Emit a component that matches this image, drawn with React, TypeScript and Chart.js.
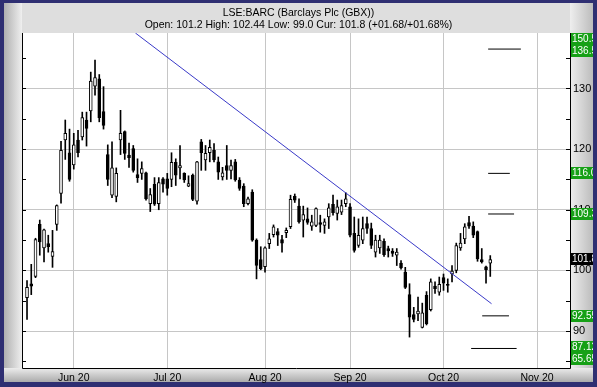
import React, { useEffect, useRef } from 'react';
import { Chart, registerables } from 'chart.js';
Chart.register(...registerables);

const opens = [95.5,97.8,99.0,107.6,103.7,104.4,102.3,107.6,112.7,121.5,
119.4,117.4,121.5,122.0,124.8,126.3,130.4,131.6,126.2,119.1,
112.4,112.2,121.5,122.9,119.0,120.1,115.8,116.0,116.1,111.0,
114.2,111.0,115.1,115.1,115.0,117.8,116.9,116.0,113.9,115.7,
111.4,121.2,118.2,119.4,119.8,117.9,115.4,117.3,116.5,117.9,
114.9,113.9,111.0,112.9,105.0,101.8,100.6,104.4,105.9,106.4,
105.1,106.2,107.2,112.2,110.6,108.3,108.5,107.3,107.4,107.9,
107.4,108.8,110.9,109.4,109.6,111.0,110.5,106.1,104.1,105.0,
107.7,106.9,103.0,103.7,104.8,103.6,103.2,102.5,101.2,99.7,
96.0,92.7,92.8,90.6,95.9,93.5,97.4,96.4,98.8,97.7,
99.4,100.0,103.7,105.2,107.9,107.3,106.4,101.8,100.6,101.2];

const highs = [98.3,101.0,105.3,108.3,106.8,105.8,106.6,110.8,121.3,124.8,
123.3,122.6,123.1,126.1,126.1,132.7,134.7,132.3,130.3,120.7,
121.2,116.9,126.4,123.0,121.0,120.6,118.4,117.9,116.2,113.5,
115.3,115.3,115.3,116.0,119.4,118.4,120.6,116.1,115.6,115.9,
118.0,121.6,120.6,121.5,120.9,118.7,117.0,120.6,118.2,118.3,
115.3,114.3,112.1,113.3,105.2,103.9,103.9,106.1,107.5,106.9,
105.8,107.0,112.4,112.6,111.8,110.6,110.3,109.1,110.3,109.1,
108.5,111.0,112.4,111.6,111.6,112.8,111.0,108.8,108.5,108.8,
108.8,107.8,105.8,105.8,105.2,104.0,103.6,103.6,101.6,100.5,
97.8,93.9,95.6,94.6,96.5,98.6,98.1,98.9,99.4,98.6,
100.8,104.5,106.1,107.7,108.9,108.0,106.5,103.6,100.7,102.44];

const lows = [91.9,96.0,98.8,102.5,101.4,103.0,100.5,106.6,111.1,118.3,
114.7,116.7,118.7,121.5,120.5,124.5,128.9,124.5,123.3,114.0,
112.0,111.3,119.1,118.3,117.0,116.2,114.5,115.0,111.6,109.7,
110.7,110.0,112.9,112.4,113.8,114.0,115.1,114.5,113.8,111.5,
110.9,116.5,116.5,117.9,117.9,115.0,114.9,115.0,115.1,114.7,
113.2,110.5,110.8,104.8,98.6,100.1,99.7,103.6,105.5,104.1,
103.0,105.4,106.9,111.2,107.8,105.5,107.6,106.6,107.2,106.3,
106.1,106.9,109.1,108.3,109.2,110.5,105.5,103.0,103.8,104.4,
106.1,103.6,102.2,102.8,102.3,102.2,102.3,100.8,100.2,97.0,
89.0,91.5,91.7,90.5,91.0,93.3,96.2,95.9,96.7,96.4,
98.1,99.6,103.3,104.4,106.9,105.4,101.5,101.2,97.9,99.0];

const closes = [97.2,97.4,105.1,104.7,106.7,103.9,103.1,110.7,119.8,122.6,
115.0,120.7,119.4,125.2,123.4,131.2,131.8,125.2,123.9,115.0,
116.9,116.0,122.6,119.3,118.6,116.5,115.3,116.8,111.8,112.5,
110.9,114.5,114.2,113.5,117.8,115.7,117.3,114.9,114.3,111.7,
117.9,119.4,119.3,120.3,118.2,116.2,116.1,116.5,117.3,114.9,
113.5,111.0,111.8,105.0,100.8,100.3,103.7,105.2,107.2,105.8,
104.5,106.6,111.7,111.6,108.0,109.2,107.9,108.0,110.2,107.6,
108.0,110.3,109.5,110.5,110.7,111.8,105.8,103.3,105.8,106.9,
106.9,104.1,105.0,105.0,102.6,103.2,102.8,103.0,100.4,97.2,
92.3,91.9,93.3,93.0,91.2,98.1,97.0,97.7,97.9,97.5,
99.9,104.1,104.5,107.2,107.3,105.8,101.9,101.4,100.1,101.8];

const monthTicks = [11, 33, 56, 76, 98, 120];
const monthLabels = ['Jun 20', 'Jul 20', 'Aug 20', 'Sep 20', 'Oct 20', 'Nov 20'];
const yTicks = [85, 90, 95, 100, 105, 110, 115, 120, 125, 130, 135];

const trendX = [25.5, 109.3];
const trendY = [139.15, 94.5];

const targetLevels = [136.5, 116.0, 109.3, 92.5, 87.12];
const targetFrom = [108.5, 108.5, 108.5, 107.1, 104.5];
const targetTo = [116.2, 113.6, 114.6, 113.4, 115.2];

const levelValues = [150.55, 136.5, 116.05, 109.35, 101.8, 92.55, 87.12, 65.65];
const levelTexts = ['150.55', '136.50', '116.05', '109.35', '101.80', '92.55', '87.12', '65.65'];
const currentPrice = 101.8;

const titleLines = [
  'LSE:BARC (Barclays Plc (GBX))',
  'Open: 101.2 High: 102.44 Low: 99.0 Cur: 101.8 (+01.68/+01.68%)',
];

const FONT = '"Liberation Sans", Arial, sans-serif';

const framePlugin = {
  id: 'frame',
  beforeDraw(chart: any) {
    const { ctx, chartArea: a, width, height } = chart;
    ctx.save();
    ctx.fillStyle = '#2f2f72';
    ctx.fillRect(0, 0, width, height);
    ctx.fillStyle = '#dedede';
    ctx.fillRect(4, 3, 589, 379);
    let g = ctx.createLinearGradient(4, 0, a.left, 0);
    g.addColorStop(0, '#b0b0b0');
    g.addColorStop(1, '#efefef');
    ctx.fillStyle = g;
    ctx.fillRect(4, 3, a.left - 4, 379);
    g = ctx.createLinearGradient(a.right, 0, 593, 0);
    g.addColorStop(0, '#eeeeee');
    g.addColorStop(1, '#bcbcbc');
    ctx.fillStyle = g;
    ctx.fillRect(a.right, 3, 593 - a.right, 379);
    g = ctx.createLinearGradient(0, a.bottom, 0, 382);
    g.addColorStop(0, '#ececec');
    g.addColorStop(1, '#ababab');
    ctx.fillStyle = g;
    ctx.fillRect(4, a.bottom, 589, 382 - a.bottom);
    ctx.fillStyle = '#ffffff';
    ctx.fillRect(a.left, a.top, a.right - a.left, a.bottom - a.top);
    ctx.restore();
  },
  afterDraw(chart: any) {
    const { ctx, chartArea: a } = chart;
    const y = chart.scales.y;
    ctx.save();
    ctx.strokeStyle = '#000';
    ctx.lineWidth = 1;
    ctx.beginPath();
    ctx.moveTo(a.left + 0.5, a.top);
    ctx.lineTo(a.left + 0.5, a.bottom + 0.5);
    ctx.lineTo(a.right + 0.5, a.bottom + 0.5);
    ctx.lineTo(a.right + 0.5, a.top);
    for (const v of yTicks) {
      const py = Math.round(y.getPixelForValue(v)) + 0.5;
      ctx.moveTo(a.left, py);
      ctx.lineTo(a.left + 4, py);
      ctx.moveTo(a.right - 4, py);
      ctx.lineTo(a.right, py);
    }
    ctx.stroke();

    const h = 12;
    const items = levelValues.map((v, i) => ({
      v,
      text: levelTexts[i],
      c: Math.min(Math.max(y.getPixelForValue(v), a.top + 6), a.bottom - 9),
      cur: v === currentPrice,
    }));
    items.sort((p, q) => p.c - q.c);
    for (let i = 1; i < items.length; i++) {
      if (items[i].c < items[i - 1].c + h) items[i].c = items[i - 1].c + h;
    }
    for (let i = items.length - 1; i >= 0; i--) {
      const lim = i === items.length - 1 ? a.bottom - 9 : items[i + 1].c - h;
      if (items[i].c > lim) items[i].c = lim;
    }
    ctx.beginPath();
    ctx.rect(0, 0, 593, 387);
    ctx.clip();
    ctx.font = '10px ' + FONT;
    ctx.textBaseline = 'middle';
    ctx.textAlign = 'left';
    for (const it of items) {
      const top = Math.round(it.c - h / 2);
      ctx.fillStyle = it.cur ? '#000000' : '#16a016';
      ctx.fillRect(a.right + 1, top, 30, h);
      ctx.fillStyle = '#ffffff';
      ctx.fillText(it.text, a.right + 2, top + h / 2 + 0.5);
    }
    ctx.restore();
  },
};

export default function App() {
  const ref = useRef<HTMLCanvasElement>(null);
  useEffect(() => {
    if (!ref.current) return;
    const idx = opens.map((_, i) => i);
    const bodies = idx.map((i) => ({ x: i, y: [opens[i], closes[i]] }));
    const wicks = idx.map((i) => ({ x: i, y: [lows[i], highs[i]] }));
    const bodyColors = idx.map((i) => (closes[i] >= opens[i] ? '#ffffff' : '#000000'));
    const targets = targetLevels.map((v, k) => ({
      type: 'line' as const,
      data: [{ x: targetFrom[k], y: v }, { x: targetTo[k], y: v }],
      borderColor: '#000000',
      borderWidth: 1,
      pointRadius: 0,
      order: -1,
    }));
    const chart = new Chart(ref.current, {
      type: 'bar',
      data: {
        datasets: [
          {
            type: 'bar',
            data: bodies as any,
            backgroundColor: bodyColors,
            borderColor: '#000000',
            borderWidth: 1,
            borderSkipped: false,
            barThickness: 3,
            grouped: false,
            order: 0,
          } as any,
          {
            type: 'bar',
            data: wicks as any,
            backgroundColor: '#000000',
            borderWidth: 0,
            barThickness: 1,
            grouped: false,
            order: 1,
          } as any,
          {
            type: 'line',
            data: [{ x: trendX[0], y: trendY[0] }, { x: trendX[1], y: trendY[1] }],
            borderColor: '#3a3ac8',
            borderWidth: 1,
            pointRadius: 0,
            order: -2,
          } as any,
          ...(targets as any[]),
        ],
      },
      options: {
        animation: false,
        responsive: false,
        devicePixelRatio: 1,
        layout: { padding: 0 },
        plugins: {
          legend: { display: false },
          tooltip: { enabled: false },
          title: {
            display: true,
            text: titleLines,
            color: '#000000',
            font: { family: FONT, size: 10.5, lineHeight: '12px', weight: 'normal' },
            padding: { top: 7, bottom: 2 },
          },
        },
        scales: {
          x: {
            type: 'linear',
            offset: false,
            min: -1.18,
            max: 127.76,
            afterBuildTicks: (s: any) => {
              s.ticks = monthTicks.map((v) => ({ value: v }));
            },
            afterFit: (s: any) => {
              s.height = 19;
            },
            ticks: {
              autoSkip: false,
              maxRotation: 0,
              padding: 4,
              color: '#000000',
              font: { family: FONT, size: 10.5 },
              callback: (v: any) => monthLabels[monthTicks.indexOf(Number(v))] ?? '',
            },
            grid: { color: '#c6c6c6', drawTicks: false, offset: false },
            border: { display: false },
          },
          yL: {
            type: 'linear',
            position: 'left',
            min: 83.9,
            max: 139.15,
            display: true,
            ticks: { display: false },
            grid: { display: false, drawTicks: false },
            border: { display: false },
            afterFit: (s: any) => {
              s.width = 22;
            },
          },
          y: {
            type: 'linear',
            position: 'right',
            min: 83.9,
            max: 139.15,
            afterBuildTicks: (s: any) => {
              s.ticks = yTicks.map((v) => ({ value: v }));
            },
            afterFit: (s: any) => {
              s.width = 27;
            },
            ticks: {
              padding: 3,
              color: '#000000',
              font: { family: FONT, size: 11 },
              callback: (v: any) => (Number(v) % 10 === 0 ? String(v) : ''),
            },
            grid: {
              drawTicks: false,
              color: (c: any) => (c.tick && c.tick.value % 10 === 0 ? '#c6c6c6' : 'rgba(0,0,0,0)'),
            },
            border: { display: false },
          },
        },
      } as any,
      plugins: [framePlugin],
    });
    return () => chart.destroy();
  }, []);
  return (
    <div style={{ position: 'absolute', left: 0, top: 0, width: 597, height: 387 }}>
      <canvas ref={ref} width={597} height={387} style={{ display: 'block', width: 597, height: 387 }} />
    </div>
  );
}
